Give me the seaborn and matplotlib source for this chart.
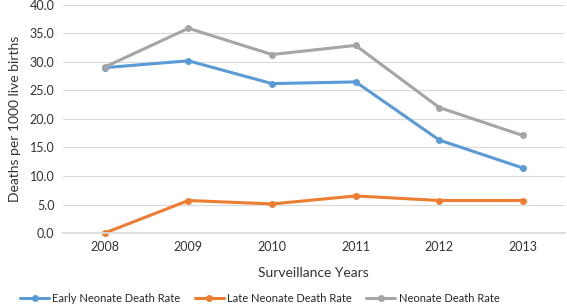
import matplotlib
matplotlib.use("Agg")
import matplotlib.pyplot as plt
import seaborn as sns
import pandas as pd

years = ["2008", "2009", "2010", "2011", "2012", "2013"]
early = [29.0, 30.2, 26.2, 26.5, 16.3, 11.4]
late = [0.0, 5.7, 5.1, 6.5, 5.7, 5.7]
neonate = [29.1, 35.9, 31.3, 32.9, 22.0, 17.1]
series_names = ["Early Neonate Death Rate", "Late Neonate Death Rate", "Neonate Death Rate"]
colors = ["#5b9bd5", "#ed7d31", "#a5a5a5"]

df = pd.DataFrame({
    "Year": years * 3,
    "Rate": early + late + neonate,
    "Series": [series_names[0]] * 6 + [series_names[1]] * 6 + [series_names[2]] * 6,
})
df["x"] = list(range(6)) * 3

sns.set_theme(style="white")
plt.rcParams["font.family"] = ["Lato", "DejaVu Sans"]

fig = plt.figure(figsize=(5.67, 3.07), dpi=100)
ax = fig.add_axes([0.111, 0.241, 0.885, 0.743])
sns.lineplot(data=df, x="x", y="Rate", hue="Series", palette=colors, marker="o",
             markersize=5, markeredgewidth=0, linewidth=2.2, ax=ax, legend=True)
for ln in ax.lines:
    ln.set_clip_on(False)

ax.set_xlim(-0.5, 5.5)
ax.set_ylim(0, 40)
ax.set_yticks([0, 5, 10, 15, 20, 25, 30, 35, 40])
ax.set_yticklabels([f"{v:.1f}" for v in range(0, 45, 5)], fontsize=9)
ax.set_xticks(range(6))
ax.set_xticklabels(years, fontsize=9)
ax.grid(axis="y", color="#d9d9d9", linewidth=0.8)
ax.set_axisbelow(True)
for s in ["top", "right", "left"]:
    ax.spines[s].set_visible(False)
ax.spines["bottom"].set_color("#d9d9d9")
ax.tick_params(axis="both", length=0, pad=6, colors="#333333")
ax.set_xlabel("Surveillance Years", fontsize=10, color="#333333", labelpad=10)
ax.set_ylabel("Deaths per 1000 live births", fontsize=10, color="#333333", labelpad=6)

handles, labels = ax.get_legend_handles_labels()
ax.get_legend().remove()
fig.legend(handles, labels, loc="center", bbox_to_anchor=(0.458, 0.028), ncol=3,
           frameon=False, fontsize=8, handlelength=2.6, columnspacing=1.3,
           handletextpad=0.3, borderpad=0, borderaxespad=0)

fig.savefig("out.png", dpi=100)
